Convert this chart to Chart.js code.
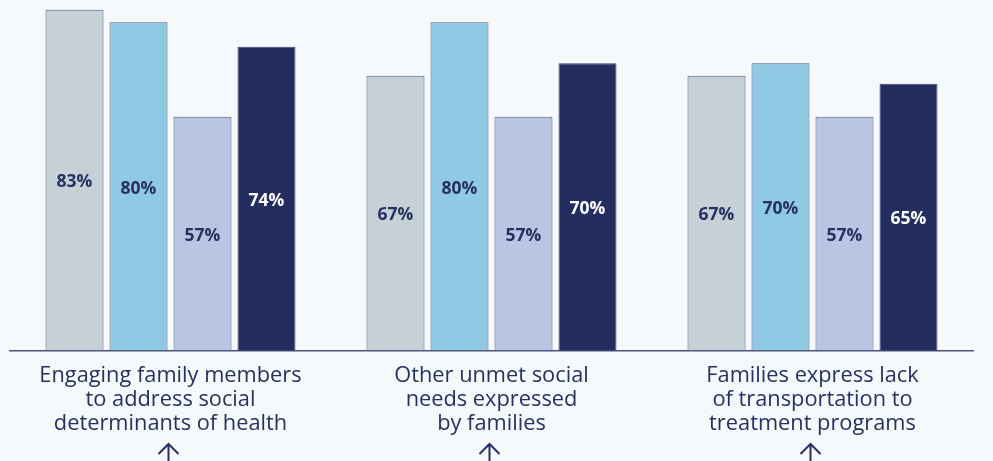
<!DOCTYPE html>
<html>
<head>
<meta charset="utf-8">
<script src="https://cdn.jsdelivr.net/npm/chart.js@4"></script>
<style>
  html, body { margin: 0; padding: 0; background: #f5f9fc; }
  #wrap { width: 993px; height: 461px; position: relative; }
</style>
</head>
<body>
<div id="wrap"><canvas id="chart"></canvas></div>
<script>
// ─── Data ───────────────────────────────────────────────────

const categories = [
  ['Engaging family members', 'to address social', 'determinants of health'],
  ['Other unmet social', 'needs expressed', 'by families'],
  ['Families express lack', 'of transportation to', 'treatment programs'],
];

const series1 = [83, 67, 67];
const series2 = [80, 80, 70];
const series3 = [57, 57, 57];
const series4 = [74, 70, 65];

const seriesColors = ['#c5d1d7', '#8fc9e4', '#bac5e4', '#232e5e'];
const labelColors = ['#27315f', '#27315f', '#27315f', '#ffffff'];

const FONT = '"Open Sans", sans-serif';
const NAVY = '#27315f';

// ─── Plugins ────────────────────────────────────────────────

const valueLabels = {
  id: 'valueLabels',
  afterDatasetsDraw(chart) {
    const ctx = chart.ctx;
    ctx.save();
    ctx.font = 'bold 17.5px ' + FONT;
    ctx.textAlign = 'center';
    ctx.textBaseline = 'middle';
    chart.data.datasets.forEach((ds, i) => {
      chart.getDatasetMeta(i).data.forEach((bar, j) => {
        ctx.fillStyle = labelColors[i];
        ctx.fillText(ds.data[j] + '%', bar.x, (bar.y + bar.base) / 2 + 2);
      });
    });
    ctx.restore();
  },
};

const arrows = {
  id: 'arrows',
  afterDraw(chart) {
    const ctx = chart.ctx;
    const x = chart.scales.x;
    const top = chart.chartArea.bottom + 93;
    ctx.save();
    ctx.strokeStyle = NAVY;
    ctx.lineWidth = 2;
    categories.forEach((c, i) => {
      const cx = x.getPixelForValue(i) - 2;
      ctx.beginPath();
      ctx.moveTo(cx - 10, top + 10);
      ctx.lineTo(cx, top);
      ctx.lineTo(cx + 10, top + 10);
      ctx.moveTo(cx, top);
      ctx.lineTo(cx, top + 25);
      ctx.stroke();
    });
    ctx.restore();
  },
};

// ─── Chart ──────────────────────────────────────────────────

const datasets = [series1, series2, series3, series4].map((data, i) => ({
  data,
  backgroundColor: seriesColors[i],
  borderColor: i === 3 ? '#3a4675' : '#4f5b82',
  borderWidth: 1,
  borderSkipped: false,
  categoryPercentage: 0.7975,
  barPercentage: 0.906,
}));

new Chart(document.getElementById('chart'), {
  type: 'bar',
  data: { labels: categories, datasets },
  plugins: [valueLabels, arrows],
  options: {
    responsive: true,
    maintainAspectRatio: false,
    animation: false,
    layout: { padding: { left: 10, right: 20, top: 0, bottom: 0 } },
    plugins: {
      legend: { display: false },
      tooltip: { enabled: false },
    },
    scales: {
      y: { display: false, min: 0, max: 85.4 },
      x: {
        grid: { display: false, drawTicks: false },
        border: { display: true, color: '#4a5479', width: 1.5 },
        ticks: {
          color: NAVY,
          padding: 13,
          maxRotation: 0,
          autoSkip: false,
          font: { family: FONT, size: 21.8, lineHeight: 1.1 },
        },
        afterFit(scale) { scale.height = 110; },
      },
    },
  },
});
</script>
</body>
</html>
